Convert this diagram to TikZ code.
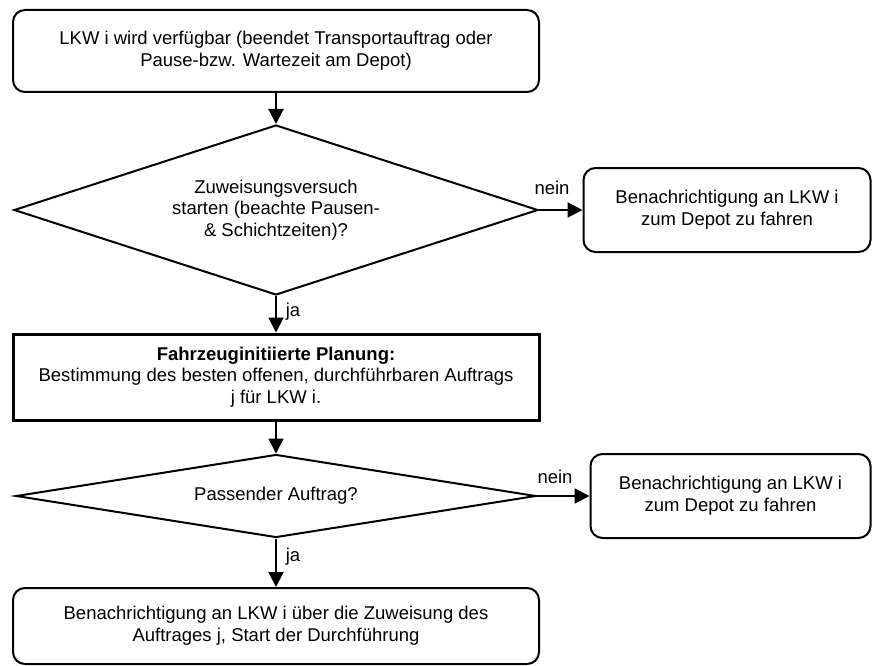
\documentclass[tikz,border=0pt]{standalone}
\usepackage{fontspec}
\setmainfont{Liberation Sans}
\usetikzlibrary{shapes.geometric,arrows.meta}
\begin{document}
\begin{tikzpicture}[x=1pt,y=-1pt,
 every node/.style={font=\fontsize{18.5}{21.7}\selectfont, align=center},
 rbox/.style={draw, line width=2pt, rounded corners=12pt, inner sep=0pt},
 pbox/.style={draw, line width=3pt, inner sep=0pt},
 dia/.style={draw, diamond, line width=2pt, inner sep=0pt},
 arr/.style={line width=2pt, -{Triangle[length=15pt,width=15pt]}},
 lbl/.style={inner sep=0pt}]
\useasboundingbox (0,0) rectangle (872,666);
\node[rbox, minimum width=526pt, minimum height=82pt] (t) at (276,51) {LKW i wird verfügbar (beendet Transportauftrag oder\\Pause-bzw. Wartezeit am Depot)};
\node[dia, minimum width=524pt, minimum height=170pt] (d1) at (276,210) {};
\node at (d1.center) {Zuweisungsversuch\\starten (beachte Pausen-\\\& Schichtzeiten)?};
\node[rbox, minimum width=287pt, minimum height=84pt] (r1) at (727,210) {Benachrichtigung an LKW i\\zum Depot zu fahren};
\node[pbox, minimum width=526pt, minimum height=86pt] (p) at (276,377) {\textbf{Fahrzeuginitiierte Planung:}\\Bestimmung des besten offenen, durchführbaren Auftrags\\j für LKW i.};
\node[dia, minimum width=520pt, minimum height=83pt] (d2) at (276,496) {};
\node at (d2.center) {Passender Auftrag?};
\node[rbox, minimum width=280pt, minimum height=84pt] (r2) at (730.5,496) {Benachrichtigung an LKW i\\zum Depot zu fahren};
\node[rbox, minimum width=526pt, minimum height=76pt] (b) at (276,626) {};
\node at (276,626) {Benachrichtigung an LKW i über die Zuweisung des\\Auftrages j, Start der Durchführung};
\draw[arr] (t.south) -- (d1.north);
\draw[arr] (d1.east) -- (r1.west);
\draw[arr] (d1.south) -- (p.north);
\draw[arr] (p.south) -- (d2.north);
\draw[arr] (d2.east) -- (r2.west);
\draw[arr] (d2.south) -- (b.north);
\node[lbl] (n1) at (552,188) {nein};
\node[lbl] (n2) at (555,477) {nein};
\node[lbl] (j1) at (293,312) {ja};
\node[lbl] (j2) at (293,557) {ja};
\end{tikzpicture}
\end{document}
